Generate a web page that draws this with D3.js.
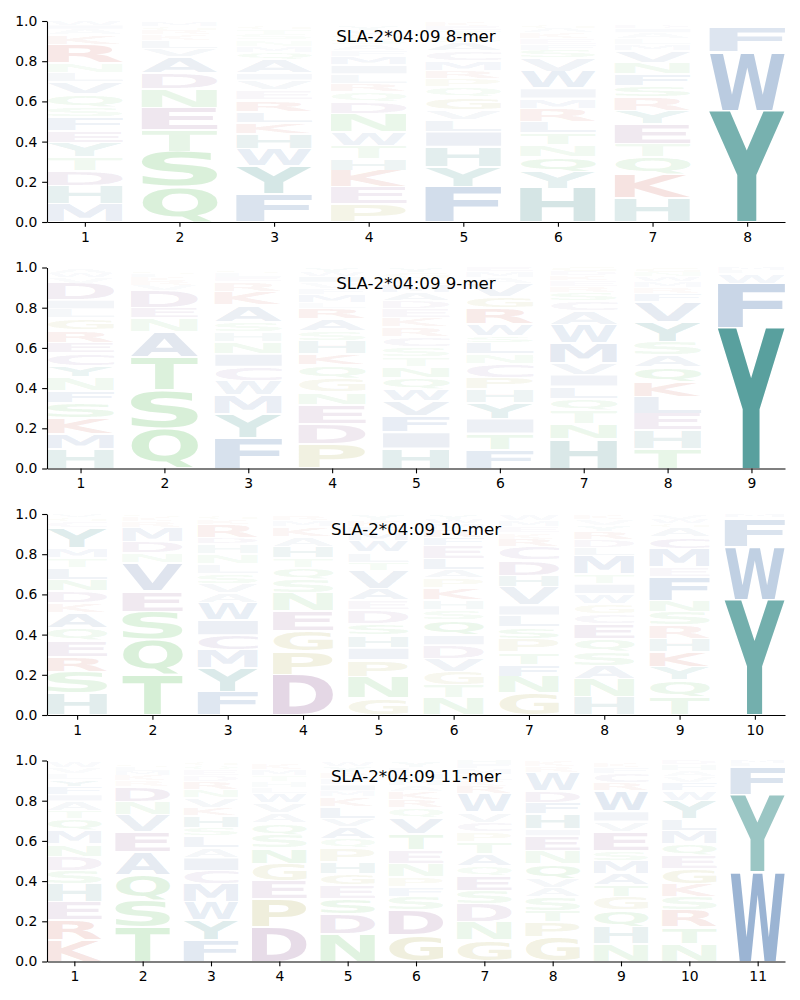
<!DOCTYPE html>
<html>
<head>
<meta charset="utf-8">
<script src="https://cdn.jsdelivr.net/npm/d3@7"></script>
<style>
  body { margin: 0; background: #fff; }
  text { font-family: "DejaVu Sans", sans-serif; }
</style>
</head>
<body>
<div id="chart"></div>
<script>
// Panel titles
var titles = ["SLA-2*04:09 8-mer", "SLA-2*04:09 9-mer", "SLA-2*04:09 10-mer", "SLA-2*04:09 11-mer"];
var yTicks = [0, 0.2, 0.4, 0.6, 0.8, 1.0];

// Letters per position, stacked bottom -> top, with their frequencies
var letters8 = ["MHDTYEFSQVLNRKAIW", "QSTENDAVLKRGM", "FYWHKLREVIAQMNSTG", "PEKHTWNDQRLIMFASGVYC",
  "FYHILVGQPRMCASTEK", "HYQNTLRMIWVSFEKAG", "HKQTEYRSFNVMLAID", "YWFLMH"];
var heights8 = [
  [.09, .09, .075, .07, .07, .06, .065, .05, .065, .06, .045, .05, .09, .05, .03, .02, .02],
  [.175, .175, .108, .11, .095, .08, .08, .04, .04, .03, .02, .02, .02],
  [.14, .14, .085, .075, .055, .055, .055, .05, .05, .035, .07, .035, .03, .03, .03, .025, .02],
  [.09, .083, .083, .06, .065, .065, .09, .06, .05, .04, .05, .045, .04, .03, .03, .03, .02, .02, .02, .01],
  [.175, .1, .1, .075, .058, .05, .065, .05, .04, .04, .05, .05, .04, .03, .03, .02, .02],
  [.167, .083, .075, .058, .058, .058, .066, .05, .05, .083, .066, .04, .03, .03, .03, .02, .02],
  [.118, .116, .088, .066, .1, .066, .066, .058, .058, .058, .058, .03, .03, .03, .02, .015],
  [.555, .29, .125, .01, .01, .01]
];

var letters9 = ["HMKSFNYCERGLIDVWA", "QSTANEDVRKLG", "FYMWCINHSAKRELGT", "PDENGQKHSARLMFVIWY",
  "HIFVWQNTSCRKEDAMLGY", "FTIYHPCNLSWRGVAME", "HNTQLIVMWACSREKDG", "THELKQASYVFRMWNG", "YFWLM"];
var heights9 = [
  [.098, .076, .078, .075, .06, .068, .056, .063, .053, .063, .058, .045, .046, .083, .03, .02, .025],
  [.2, .19, .166, .125, .066, .053, .083, .03, .02, .02, .015, .015],
  [.152, .12, .095, .07, .07, .063, .06, .05, .05, .083, .066, .05, .02, .02, .015, .01],
  [.12, .1, .095, .063, .07, .066, .055, .066, .05, .058, .053, .03, .04, .03, .03, .03, .02, .02],
  [.1, .08, .08, .075, .058, .058, .055, .05, .05, .05, .05, .045, .045, .04, .04, .04, .03, .03, .02],
  [.095, .08, .073, .08, .066, .058, .066, .05, .058, .033, .058, .08, .058, .065, .03, .03, .02],
  [.145, .075, .066, .06, .063, .058, .058, .1, .09, .07, .05, .04, .03, .03, .025, .02, .02],
  [.1, .09, .083, .083, .075, .075, .058, .066, .1, .1, .04, .03, .03, .025, .02, .02],
  [.70, .22, .05, .015, .015]
];

var letters10 = ["HSREQAKDNLTMYCGV", "TQSEVNDMRKG", "FYMCIWAVSLNHDRKG", "DPGENSQTHAKMRV",
  "GNPIHSDEAVTLWMFKY", "NTGVDIQSHKPALEFRMWY", "GNFTPSLIVHDCRKEMW", "HNASQECGWITMLDRYVK",
  "TQYKHRSNFEMCAGWV", "YWFLM"];
var heights10 = [
  [.108, .108, .075, .078, .063, .075, .05, .058, .058, .058, .05, .05, .1, .03, .02, .016],
  [.2, .175, .14, .1, .14, .05, .058, .07, .03, .02, .015],
  [.116, .116, .09, .075, .075, .083, .05, .045, .05, .05, .05, .05, .033, .066, .025, .02],
  [.2, .116, .1, .1, .09, .066, .058, .05, .058, .05, .05, .03, .02, .01],
  [.083, .108, .083, .06, .063, .058, .066, .05, .058, .09, .04, .05, .058, .04, .03, .03, .03],
  [.083, .066, .066, .066, .066, .05, .075, .05, .05, .058, .05, .04, .058, .066, .04, .04, .03, .02, .02],
  [.108, .083, .06, .063, .066, .058, .058, .05, .09, .058, .075, .066, .04, .03, .03, .03, .028],
  [.09, .09, .066, .066, .066, .075, .05, .05, .05, .05, .05, .09, .04, .04, .04, .03, .03, .02],
  [.09, .083, .066, .075, .066, .066, .066, .058, .116, .05, .09, .058, .05, .02, .02, .02],
  [.575, .26, .14, .01, .015]
];

var letters11 = ["KREHSDNMQTAIFYLVW", "TSQAEVNDRKMLG", "FYWMCIALSHKVNRDEQG", "DPEGNSQAVWLHTMK",
  "NDSEGHPQAVLKMIFRYW", "GDSFPNETVQRKAHMLY", "GNDSEQATPCVWRKLMFH", "GPTSAVQNEIHFDWRK",
  "NHQGTAMSEVIWRCFKY", "NTRSKGEQMLYWFVAHD", "WYFLM"];
var heights11 = [
  [.105, .1, .09, .09, .066, .07, .063, .066, .058, .04, .05, .033, .04, .035, .03, .03, .03],
  [.17, .133, .125, .116, .1, .083, .066, .075, .03, .03, .02, .02, .016],
  [.105, .1, .09, .09, .066, .066, .05, .058, .04, .058, .04, .05, .04, .04, .03, .03, .02, .02],
  [.17, .14, .09, .088, .075, .066, .058, .05, .05, .05, .03, .03, .03, .03, .03],
  [.138, .1, .075, .066, .058, .058, .066, .05, .06, .04, .058, .05, .03, .03, .03, .03, .03, .02],
  [.13, .125, .066, .05, .05, .066, .066, .08, .08, .05, .04, .04, .03, .03, .03, .03, .03],
  [.105, .09, .09, .066, .075, .05, .058, .058, .05, .05, .05, .09, .04, .03, .03, .03, .02, .02],
  [.12, .075, .058, .066, .045, .045, .075, .066, .075, .033, .075, .058, .058, .09, .03, .03],
  [.088, .083, .083, .066, .058, .058, .066, .05, .095, .05, .05, .1, .04, .05, .03, .02, .01],
  [.088, .083, .083, .066, .066, .075, .066, .058, .066, .058, .09, .05, .04, .03, .03, .03, .02],
  [.445, .385, .14, .015, .015]
];

var panelLetters = [letters8, letters9, letters10, letters11];
var panelHeights = [heights8, heights9, heights10, heights11];

// Amino acid colours
var aaColor = {
  Y: "#338a87", H: "#4f9493",
  W: "#4b77af", F: "#4b77af",
  M: "#5c7bb0", A: "#637fac", V: "#637fac", L: "#637fac", I: "#637fac",
  C: "#8a70aa",
  S: "#6cc46c", T: "#6cc46c", N: "#6cc46c", Q: "#6cc46c",
  D: "#9e70a2", E: "#9e70a2",
  K: "#cd5f55", R: "#cd5f55",
  P: "#b3af57", G: "#b3af57"
};

var attrs = {
  svgWidth: 800,
  svgHeight: 1000,
  left: 47,
  right: 785,
  axHeight: 201,
  tops: [21, 267.5, 514, 760.5],
  letterWidth: 0.8,
  fontSize: 13.9,
  titleSize: 16.67
};

// Glyph ink measurement (canvas) so letters can be stretched into their box
var canvas = document.createElement("canvas");
var ctx = canvas.getContext("2d");
ctx.font = "bold 100px 'DejaVu Sans'";
var inkCache = {};
function ink(ch) {
  if (!inkCache[ch]) {
    var m = ctx.measureText(ch);
    inkCache[ch] = {
      x0: -m.actualBoundingBoxLeft, x1: m.actualBoundingBoxRight,
      y0: -m.actualBoundingBoxAscent, y1: m.actualBoundingBoxDescent
    };
  }
  return inkCache[ch];
}

// opacity grows with frequency
function letterAlpha(f) { return Math.min(1, 1.1 * Math.pow(f, 0.85)); }

var svg = d3.select("#chart").append("svg")
  .attr("width", attrs.svgWidth)
  .attr("height", attrs.svgHeight);

panelLetters.forEach(function (cols, p) {
  var top = attrs.tops[p];
  var n = cols.length;
  var x = d3.scaleLinear().domain([1 - attrs.letterWidth / 2, n + attrs.letterWidth / 2]).range([attrs.left, attrs.right]);
  var y = d3.scaleLinear().domain([0, 1]).range([top + attrs.axHeight, top]);

  var g = svg.append("g").attr("class", "panel");

  // build stacked glyph boxes
  var glyphs = [];
  cols.forEach(function (str, i) {
    var cum = 0;
    str.split("").forEach(function (ch, j) {
      var h = panelHeights[p][i][j];
      glyphs.push({ ch: ch, pos: i + 1, lo: cum, hi: cum + h, f: h });
      cum += h;
    });
  });

  g.selectAll("text.glyph")
    .data(glyphs)
    .enter().append("text")
    .attr("class", "glyph")
    .attr("font-size", 100)
    .attr("font-weight", "bold")
    .style("font-family", "'DejaVu Sans'")
    .attr("fill", function (d) { return aaColor[d.ch]; })
    .attr("fill-opacity", function (d) { return letterAlpha(d.f); })
    .attr("transform", function (d) {
      var b = ink(d.ch);
      var rx = x(d.pos - attrs.letterWidth / 2), rw = x(d.pos + attrs.letterWidth / 2) - rx;
      var slot = y(d.lo) - y(d.hi);
      var pad = Math.min(0.9, slot * 0.1);
      var ry = y(d.hi) + pad, rh = slot - 2 * pad;
      var sx = rw / (b.x1 - b.x0), sy = rh / (b.y1 - b.y0);
      return "translate(" + rx + "," + ry + ") scale(" + sx + "," + sy + ") translate(" + (-b.x0) + "," + (-b.y0) + ")";
    })
    .text(function (d) { return d.ch; });

  // axes
  var xAxis = d3.axisBottom(x)
    .tickValues(d3.range(1, n + 1))
    .tickFormat(d3.format("d"))
    .tickSize(4.86).tickSizeOuter(0).tickPadding(4.86);
  var yAxis = d3.axisLeft(y)
    .tickValues(yTicks)
    .tickFormat(d3.format(".1f"))
    .tickSize(4.86).tickSizeOuter(0).tickPadding(4.86);

  var gx = g.append("g")
    .attr("transform", "translate(0," + (top + attrs.axHeight) + ")")
    .call(xAxis);
  var gy = g.append("g")
    .attr("transform", "translate(" + attrs.left + ",0)")
    .call(yAxis);

  [gx, gy].forEach(function (ax) {
    ax.selectAll("path, line").attr("stroke", "#000").attr("stroke-width", 1.1);
    ax.selectAll("text")
      .attr("font-size", attrs.fontSize)
      .attr("fill", "#000")
      .style("font-family", "'DejaVu Sans'");
  });

  // panel title
  g.append("text")
    .attr("x", (attrs.left + attrs.right) / 2)
    .attr("y", top + 21)
    .attr("text-anchor", "middle")
    .attr("font-size", attrs.titleSize)
    .attr("fill", "#000")
    .text(titles[p]);
});
</script>
</body>
</html>
